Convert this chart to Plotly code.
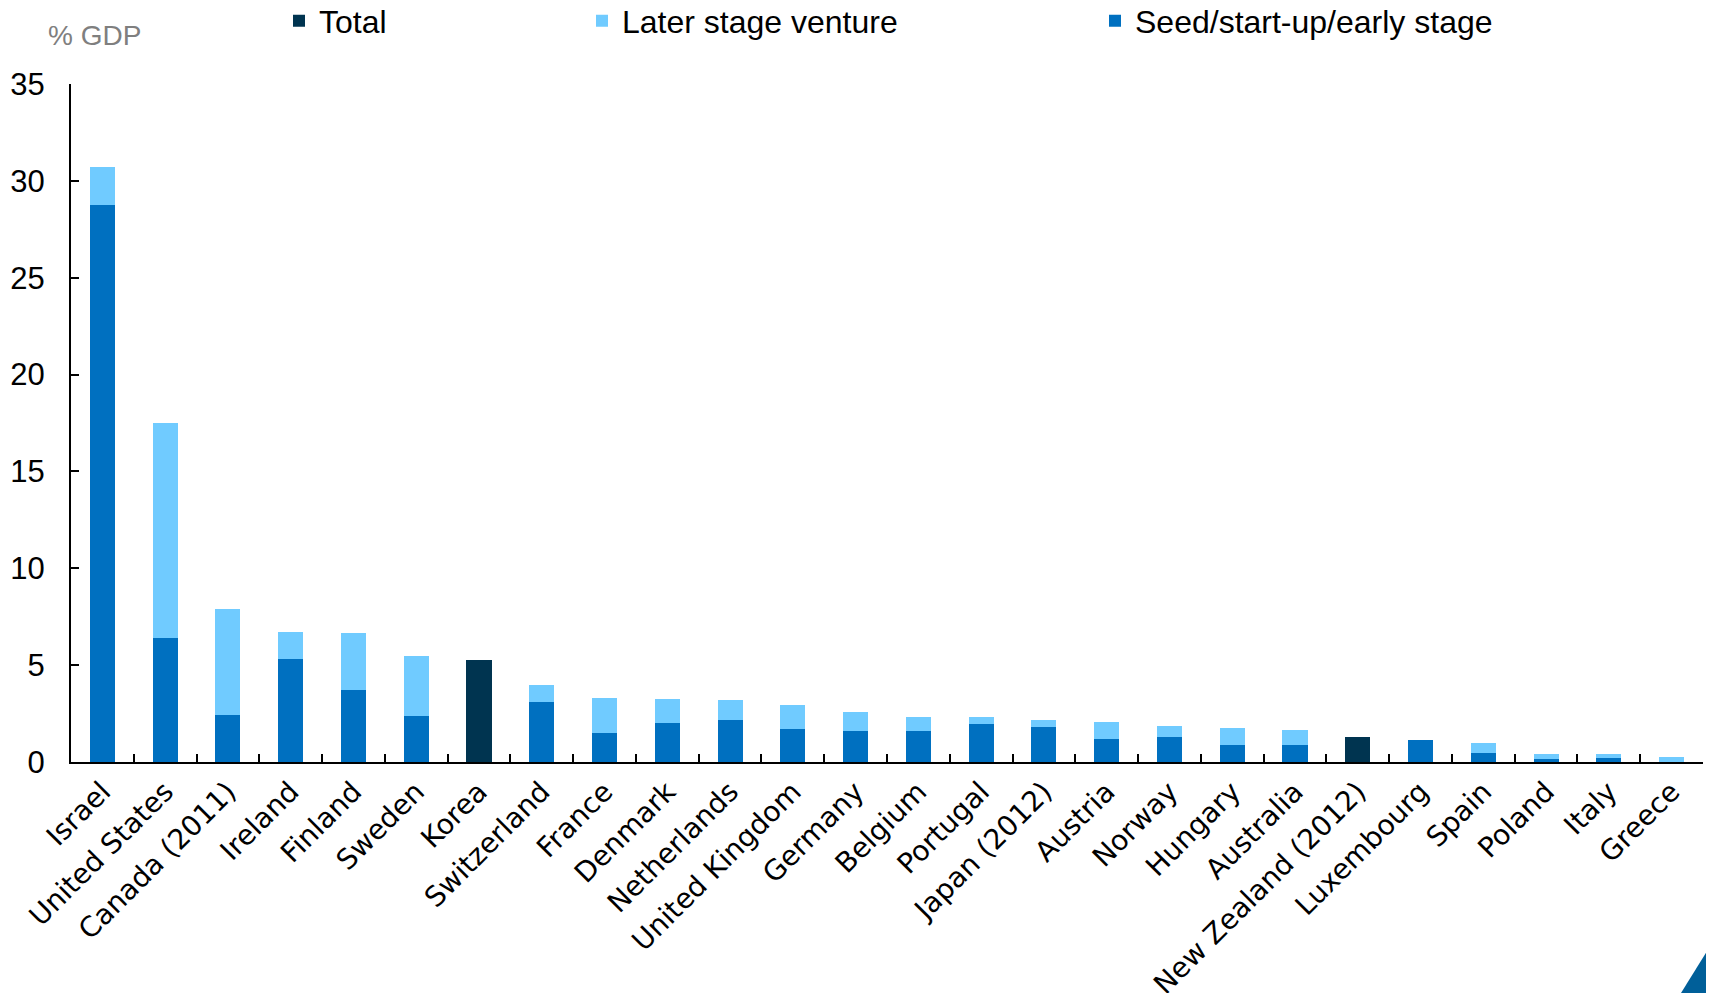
import plotly.graph_objects as go

countries = ["Israel", "United States", "Canada (2011)", "Ireland", "Finland", "Sweden", "Korea",
             "Switzerland", "France", "Denmark", "Netherlands", "United Kingdom", "Germany",
             "Belgium", "Portugal", "Japan (2012)", "Austria", "Norway", "Hungary", "Australia",
             "New Zealand (2012)", "Luxembourg", "Spain", "Poland", "Italy", "Greece"]

seed = [28.75, 6.38, 2.42, 5.32, 3.72, 2.40, None,
        3.12, 1.50, 2.03, 2.15, 1.70, 1.58,
        1.62, 1.97, 1.80, 1.17, 1.31, 0.90, 0.90,
        None, 1.16, 0.47, 0.16, 0.22, 0.0]

later = [1.95, 11.12, 5.46, 1.37, 2.95, 3.08, None,
         0.88, 1.80, 1.22, 1.05, 1.25, 1.00,
         0.70, 0.33, 0.35, 0.89, 0.53, 0.85, 0.75,
         None, 0.0, 0.50, 0.24, 0.19, 0.26]

total = [None, None, None, None, None, None, 5.25,
         None, None, None, None, None, None,
         None, None, None, None, None, None, None,
         1.27, None, None, None, None, None]

y_ticks = [0, 5, 10, 15, 20, 25, 30, 35]

C_SEED = "#0070c0"
C_LATER = "#70cbff"
C_TOTAL = "#003450"

fig = go.Figure()
fig.add_trace(go.Bar(x=countries, y=total, name="Total", marker_color=C_TOTAL,
                     marker_line_width=0, legend="legend", legendrank=1))
fig.add_trace(go.Bar(x=countries, y=seed, name="Seed/start-up/early stage", marker_color=C_SEED,
                     marker_line_width=0, legend="legend3", legendrank=3))
fig.add_trace(go.Bar(x=countries, y=later, name="Later stage venture", marker_color=C_LATER,
                     marker_line=dict(width=0), legend="legend2", legendrank=2))

# figure sized to fit inside the page body (default 8px body margin)
W, H = 1706, 985
L, R, T, B = 63, 11, 76, 231
pw = W - L - R
ph = H - T - B

def px_x(x):
    return (x - L) / pw

def px_y(y):
    return (H - B - y) / ph

leg_font = dict(family="Liberation Sans Narrow, Liberation Sans, sans-serif", size=32, color="#000000")
common_leg = dict(orientation="h", yanchor="middle", xanchor="left", font=leg_font,
                  bgcolor="rgba(0,0,0,0)", itemwidth=30, tracegroupgap=0)

fig.update_layout(
    width=W, height=H,
    margin=dict(l=L, r=R, t=T, b=B, autoexpand=False),
    paper_bgcolor="white", plot_bgcolor="white",
    barmode="stack", bargap=0.6,
    showlegend=True,
    legend=dict(x=px_x(271), y=px_y(13), **common_leg),
    legend2=dict(x=px_x(574), y=px_y(13), **common_leg),
    legend3=dict(x=px_x(1087), y=px_y(13), **common_leg),
    xaxis=dict(
        type="category", tickangle=-45, showline=True, linecolor="black", linewidth=2,
        ticks="inside", tickson="boundaries", ticklen=8, tickwidth=2, tickcolor="black",
        tickfont=dict(family="DejaVu Sans, sans-serif", size=28, color="black"),
        showgrid=False,
    ),
    yaxis=dict(
        range=[0, 35], tickvals=y_ticks, showline=True, linecolor="black", linewidth=2,
        ticks="inside", ticklen=8, tickwidth=2, tickcolor="black",
        tickfont=dict(family="Liberation Sans Narrow, Liberation Sans, sans-serif", size=31, color="black"),
        showgrid=False, zeroline=False, ticklabelstandoff=18,
    ),
    annotations=[dict(text="% GDP", xref="paper", yref="paper", x=px_x(38), y=px_y(28),
                      xanchor="left", yanchor="middle", showarrow=False,
                      font=dict(family="Liberation Sans, sans-serif", size=28, color="#7f7f7f"))],
    shapes=[dict(type="path", xref="paper", yref="paper",
                 path=f"M {px_x(1706)} {px_y(932)} L {px_x(1706)} {px_y(985)} L {px_x(1673)} {px_y(985)} Z",
                 fillcolor="#005f99", line=dict(width=0), layer="above")],
)

fig.write_html("out.html")
